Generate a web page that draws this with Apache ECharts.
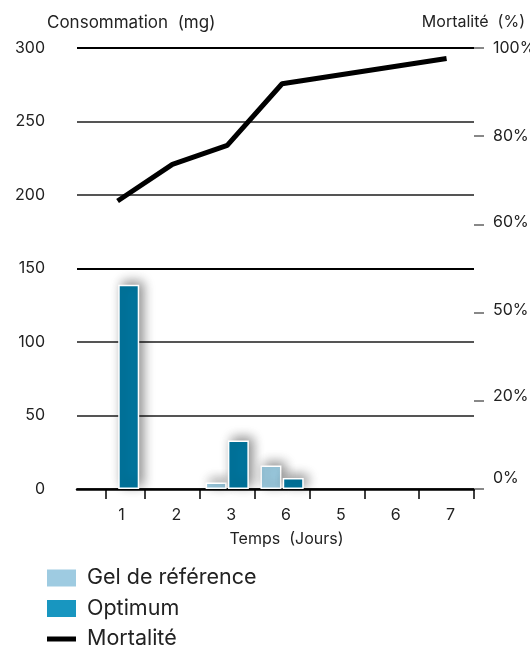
<!DOCTYPE html>
<html>
<head>
<meta charset="utf-8">
<script src="https://cdn.jsdelivr.net/npm/echarts@6/dist/echarts.min.js"></script>
<style>
html,body{margin:0;padding:0;background:#fff;}
#chart{width:530px;height:648px;}
</style>
</head>
<body>
<div id="chart"></div>
<script>
// ---- data ----
const days = ['1', '2', '3', '6', '5', '6', '7'];
const gelReference = [null, null, 4.5, 16, null, null, null];
const optimum = [139, null, 33, 7.5, null, null, null];
const mortalite = [65.3, 73.6, 77.9, 91.9, null, null, 97.6];
const leftTicks = [0, 50, 100, 150, 200, 250, 300];
const pctTickValues = [0, 20, 40, 60, 80, 100];
const pctTickLabels = ['0%', '20%', '50%', '60%', '80%', '100%'];

const FONT = 'Inter, "Noto Sans", sans-serif';
const chart = echarts.init(document.getElementById('chart'));

const toXY = arr => arr.map((v, i) => [i + 1, v]);
const boundaries = [0.78].concat(days.map((d, i) => i + 1.5));

const option = {
  animation: false,
  textStyle: { fontFamily: FONT },
  grid: { left: 77, right: 56, top: 48, bottom: 159, containLabel: false, outerBoundsMode: 'none' },
  graphic: [
    { type: 'text', left: 47, top: 14, style: { text: 'Consommation  (mg)', font: '17px ' + FONT, fill: '#222' } },
    { type: 'text', right: 5, top: 14, style: { text: 'Mortalité  (%)', font: '16px ' + FONT, fill: '#222' } }
  ],
  legend: {
    orient: 'vertical',
    left: 47,
    top: 567,
    height: 120,
    padding: 0,
    itemWidth: 29,
    itemHeight: 17,
    itemGap: 8.5,
    textStyle: { fontSize: 21.5, color: '#222', fontFamily: FONT, lineHeight: 21, padding: [0, 0, 0, 6] },
    data: [
      { name: 'Gel de référence', icon: 'rect', itemStyle: { color: '#9ecbe1', borderWidth: 0, shadowBlur: 0 } },
      { name: 'Optimum', icon: 'rect', itemStyle: { color: '#1896c0', borderWidth: 0, shadowBlur: 0 } },
      { name: 'Mortalité', icon: 'path://M0,0H29V5H0Z', itemStyle: { color: '#000' } }
    ]
  },
  xAxis: {
    type: 'value',
    min: 0.26,
    max: 7.5,
    name: 'Temps  (Jours)',
    nameLocation: 'middle',
    nameGap: 42,
    nameTextStyle: { fontSize: 16, color: '#222', padding: [0, 0, 0, 22] },
    axisLine: { show: true, lineStyle: { color: '#000', width: 2.5 } },
    axisTick: { show: true, length: 10, customValues: boundaries, lineStyle: { color: '#000', width: 1.5 } },
    axisLabel: {
      customValues: days.map((d, i) => i + 1),
      formatter: v => days[Math.round(v) - 1],
      fontSize: 16, color: '#222', margin: 18, padding: [0, 0, 0, 8]
    },
    splitLine: { show: false }
  },
  yAxis: [
    {
      type: 'value', min: 0, max: 300, interval: 50,
      axisLine: { show: false },
      axisTick: { show: false },
      axisLabel: { fontSize: 16, color: '#222', margin: 32, align: 'right' },
      splitLine: { lineStyle: { color: ['#555', '#555', '#555', '#000', '#555', '#555', '#000'], width: 1.8 } }
    },
    {
      type: 'value', min: 0, max: 100, interval: 20, position: 'right',
      axisLine: { show: false },
      axisTick: { show: true, length: 10, lineStyle: { color: '#888', width: 2 } },
      axisLabel: {
        fontSize: 16, color: '#222', margin: 19, align: 'left',
        formatter: v => {
          const i = pctTickValues.indexOf(v);
          const t = i >= 0 ? pctTickLabels[i] : '';
          if (v === 0) return '{z|' + t + '}';
          if (v === 20) return '{a|' + t + '}';
          if (v === 40 || v === 60) return '{b|' + t + '}';
          return t;
        },
        rich: {
          z: { fontSize: 16, color: '#222', padding: [0, 0, 22, 0] },
          a: { fontSize: 16, color: '#222', padding: [0, 0, 10, 0] },
          b: { fontSize: 16, color: '#222', padding: [0, 0, 5, 0] }
        }
      },
      splitLine: { show: false }
    }
  ],
  series: [
    {
      name: 'Gel de référence', type: 'bar', barWidth: 21, barGap: '6%',
      data: toXY(gelReference),
      itemStyle: {
        color: '#9ccbe0', borderColor: '#fff', borderWidth: 1.5,
        shadowColor: 'rgba(0,0,0,0.45)', shadowBlur: 12, shadowOffsetX: 4, shadowOffsetY: -3
      }
    },
    {
      name: 'Optimum', type: 'bar', barWidth: 21, barGap: '6%',
      data: toXY(optimum),
      itemStyle: {
        color: '#00769f', borderColor: '#fff', borderWidth: 1.5,
        shadowColor: 'rgba(0,0,0,0.45)', shadowBlur: 12, shadowOffsetX: 4, shadowOffsetY: -3
      }
    },
    {
      name: 'Mortalité', type: 'line', yAxisIndex: 1,
      data: toXY(mortalite), connectNulls: true,
      symbol: 'none', z: 5,
      lineStyle: { color: '#000', width: 5 },
      itemStyle: { color: '#000' }
    }
  ]
};
chart.setOption(option);
</script>
</body>
</html>
